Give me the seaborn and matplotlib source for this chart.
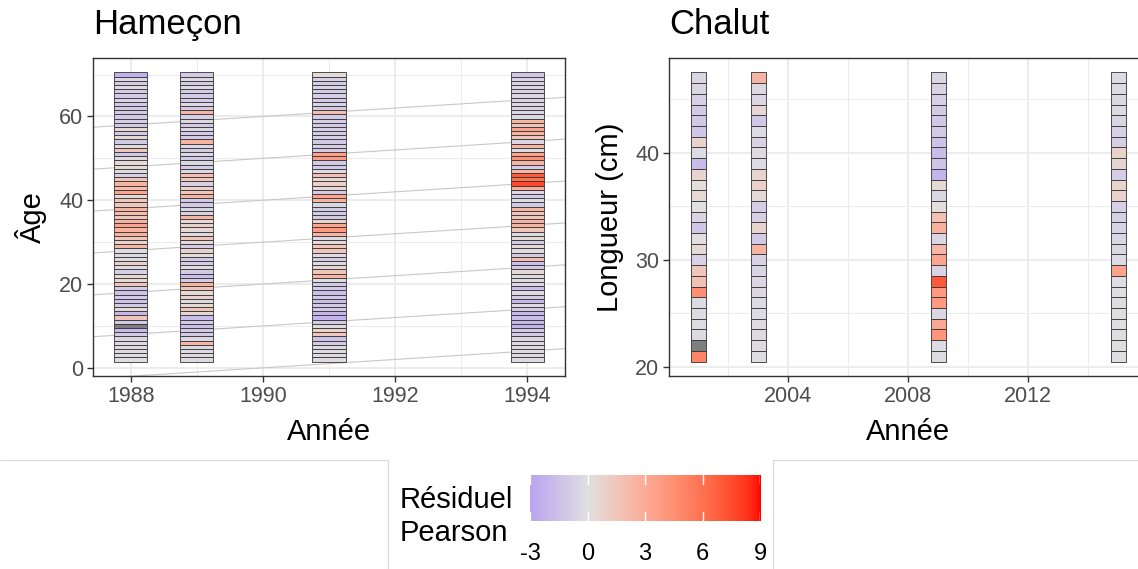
import numpy as np
import matplotlib
matplotlib.use("Agg")
import matplotlib.pyplot as plt
import seaborn as sns
from matplotlib.colors import ListedColormap, Normalize
from matplotlib.lines import Line2D

# ---------------- data ----------------
hook_years = [1988, 1989, 1991, 1994]
hook_ages = list(range(70, 1, -1))  # top to bottom
res_1988 = [-2.3, -0.5, -1.0, -0.3, -1.0, -1.0, -0.7, -1.0, -1.0, -1.0, -1.0, -0.8, -1.0, 0.4, -1.0, 0.5,
            -1.0, -0.2, 1.5, -1.3, -0.2, 0.5, 0.3, -0.2, -0.8, 1.5, 2.5, 2.0, 3.5, 0.5, 1.5, 1.5, 2.5, 2.0,
            1.5, 2.5, 3.5, 2.5, 2.5, 1.5, 0.8, 2.5, -0.2, -0.2, -0.2, 0.8, -0.2, -0.8, 0.5, 0.5, 1.5, -1.0,
            -1.5, -1.0, -1.5, -1.0, 0.5, -2.0, 1.5, -1.0, np.nan, -2.0, -1.0, -0.5, -0.2, -0.2, -0.2, -0.1, -0.1]
res_1989 = [-1.0, -0.4, -1.0, -0.3, -1.0, -1.0, -1.0, -0.3, -1.0, 2.5, -0.8, -0.5, -1.0, -0.5, -1.0, -1.0,
            2.5, -0.5, -1.0, -0.5, -1.0, -0.5, -1.0, -0.5, 2.0, 1.5, -0.8, 0.8, 1.5, 2.5, -1.0, -1.0, -0.6,
            -0.6, 2.5, 0.5, 0.8, 0.5, -0.2, 1.5, 0.5, -1.0, 0.8, 0.2, -1.0, -1.0, -0.2, -1.0, -1.6, -1.0, 2.5,
            1.5, 0.5, 0.8, -0.2, 0.5, 1.5, 0.5, -1.6, -1.0, -1.6, -1.0, -1.0, -0.5, 2.5, -0.2, -0.2, -0.2, -0.2]
res_1991 = [0.3, -0.8, -1.0, -0.6, -1.0, -0.8, -1.0, -0.6, -1.0, 2.0, -1.0, -0.8, -1.0, -0.8, -1.0, -0.8,
            -1.0, -0.8, -1.0, 3.5, 3.8, -1.0, -1.0, -0.3, 2.0, 0.5, 1.0, 0.5, -1.0, 3.5, 2.5, -0.5, -1.0,
            -1.0, -1.0, 0.8, 3.5, 4.0, 2.5, -0.2, 0.5, 1.5, 1.5, -0.2, -1.0, -0.2, 0.5, 1.5, 2.5, -0.2, -1.0,
            -1.0, -1.6, -1.0, -1.6, -1.0, -1.0, -2.2, -2.2, -1.0, -0.2, 0.8, 1.5, -1.5, -1.0, -0.2, -0.2, -0.2, -0.2]
res_1994 = [-1.2, -0.5, -0.6, -0.5, -0.6, -0.5, -0.6, -0.5, -0.6, -0.5, -0.3, 2.5, 1.5, 3.5, 2.5, 1.5,
            -0.5, 2.5, -0.3, 3.5, 4.5, 2.5, -1.0, 2.5, 7.0, 6.0, 7.5, 3.0, -0.5, -1.0, -0.3, -1.0, 2.5, 1.5,
            1.5, 2.5, 2.5, 1.5, -0.2, 0.5, -1.0, 0.5, -0.2, -1.0, 2.0, -1.6, -1.0, 0.5, -0.2, -0.2, -0.2, -1.6,
            -0.2, -1.0, -2.0, -0.3, -1.0, -2.0, -1.6, -2.0, -2.2, -1.0, -1.0, -0.5, -0.2, -0.2, -0.2, -0.2, -0.2]
hook_res = [res_1988, res_1989, res_1991, res_1994]

trawl_years = [2001, 2003, 2009, 2015]
trawl_lengths = list(range(47, 20, -1))  # top to bottom
res_2001 = [-0.5, -0.5, -0.8, -1.0, -1.2, -1.3, 0.8, -0.3, -1.8, 0.7, 0.2, 0.4, 0.0, -0.6, -1.3, 0.1,
            0.5, -0.7, 1.5, 1.8, 4.5, -0.3, -0.3, -0.3, -0.2, np.nan, 5.0]
res_2003 = [2.5, -0.4, -0.5, 0.6, -1.2, -0.3, -0.7, -0.2, -0.3, 0.7, 0.9, 0.4, -0.9, -0.8, 0.7, -1.1,
            2.5, -0.7, -0.6, -0.5, -0.4, -0.3, -0.3, -0.2, -0.2, -0.2, -0.1]
res_2009 = [-0.5, -0.7, -0.8, -1.0, -1.2, -1.0, -1.5, -1.8, -1.4, -2.2, 0.5, -0.5, 0.2, 1.8, 2.7, -0.5,
            2.3, 3.3, -0.7, 7.0, 4.0, 4.0, -0.4, 3.2, 4.2, -0.2, -0.2]
res_2015 = [-0.3, -0.3, -0.4, -0.4, -0.6, -0.8, -0.9, 0.8, 0.7, -0.9, 0.7, 0.8, -0.8, -0.8, -0.7, -0.5,
            -0.5, -0.3, 3.5, -0.1, -0.1, -0.1, -0.1, -0.1, -0.1, -0.1, -0.1]
trawl_res = [res_2001, res_2003, res_2009, res_2015]

cohorts = [1930, 1940, 1950, 1960, 1970, 1980, 1990]
cbar_ticks = [-3, 0, 3, 6, 9]

# ---------------- colour scale (Lab interpolation) ----------------
WHITE = np.array([0.95047, 1.0, 1.08883])
M = np.array([[0.4124, 0.3576, 0.1805], [0.2126, 0.7152, 0.0722], [0.0193, 0.1192, 0.9505]])
Minv = np.linalg.inv(M)


def to_lab(rgb):
    c = np.asarray(rgb, float)
    lin = np.where(c <= 0.04045, c / 12.92, ((c + 0.055) / 1.055) ** 2.4)
    t = (M @ lin) / WHITE
    f = np.where(t > 0.008856, np.cbrt(t), 7.787 * t + 16 / 116)
    return np.array([116 * f[1] - 16, 500 * (f[0] - f[1]), 200 * (f[1] - f[2])])


def from_lab(lab):
    L, a, b = lab
    fy = (L + 16) / 116
    fx = fy + a / 500
    fz = fy - b / 200
    f = np.array([fx, fy, fz])
    t = np.where(f ** 3 > 0.008856, f ** 3, (f - 16 / 116) / 7.787) * WHITE
    lin = Minv @ t
    lin = np.clip(lin, 0, 1)
    c = np.where(lin <= 0.0031308, 12.92 * lin, 1.055 * lin ** (1 / 2.4) - 0.055)
    return np.clip(c, 0, 1)


low = to_lab(np.array([184, 164, 240]) / 255)
mid = to_lab(np.array([224, 224, 224]) / 255)
high = to_lab(np.array([255, 0, 0]) / 255)
vmin, vmax = -3, 9
cols = []
for v in np.linspace(vmin, vmax, 256):
    if v < 0:
        t = (v - vmin) / (0 - vmin)
        lab = low + (mid - low) * t
    else:
        t = v / vmax
        lab = mid + (high - mid) * t
    cols.append(from_lab(lab))
cmap = ListedColormap(cols)
cmap.set_bad("#7F7F7F")
norm = Normalize(vmin, vmax)

# ---------------- theme ----------------
sns.set_theme(style="whitegrid")
plt.rcParams["font.family"] = ["Liberation Sans", "DejaVu Sans"]
plt.rcParams["text.color"] = "black"
plt.rcParams["axes.labelcolor"] = "black"

fig = plt.figure(figsize=(11.38, 5.69), dpi=100)
W, H = 1138, 569


def axbox(x0, y0, x1, y1):
    return [x0 / W, 1 - y1 / H, (x1 - x0) / W, (y1 - y0) / H]


ax1 = fig.add_axes(axbox(93, 58, 565, 376))
ax2 = fig.add_axes(axbox(669, 58, 1147.6, 376))


def style(ax):
    ax.set_facecolor("white")
    for s in ax.spines.values():
        s.set_visible(True)
        s.set_color("#333333")
        s.set_linewidth(1.0)
    ax.grid(True, which="major", color="#EBEBEB", linewidth=1.3)
    ax.grid(True, which="minor", color="#EBEBEB", linewidth=0.65)
    ax.tick_params(axis="both", which="major", length=4, width=1.0, color="#333333",
                   labelsize=15.5, labelcolor="#4D4D4D", pad=3, bottom=True, left=True)
    ax.tick_params(axis="both", which="minor", length=0)
    ax.set_axisbelow(True)


def draw_tiles(ax, xs, ys, vals):
    for x, col in zip(xs, vals):
        v = np.array(col, float)
        colors = [cmap(norm(vv)) if not np.isnan(vv) else (0.498, 0.498, 0.498, 1) for vv in v]
        ax.bar(np.full(len(ys), x), np.ones(len(ys)), bottom=np.array(ys) - 0.5, width=0.5,
               color=colors, edgecolor="#333333", linewidth=0.6, zorder=3)


# left panel
style(ax1)
xl = np.array([1987.425, 1994.575])
for c in cohorts:
    ax1.plot(xl, xl - c, color="#C8C8C8", linewidth=0.8, zorder=2)
draw_tiles(ax1, hook_years, hook_ages, hook_res)
ax1.set_xlim(1987.425, 1994.575)
ax1.set_ylim(-1.95, 73.95)
ax1.set_xticks([1988, 1990, 1992, 1994])
ax1.set_xticks([1989, 1991, 1993], minor=True)
ax1.set_yticks([0, 20, 40, 60])
ax1.set_yticks([10, 30, 50, 70], minor=True)
ax1.set_xlabel("Année", fontsize=21, labelpad=8)
ax1.set_ylabel("Âge", fontsize=21, labelpad=9)

# right panel
style(ax2)
draw_tiles(ax2, trawl_years, trawl_lengths, trawl_res)
ax2.set_xlim(2000.025, 2015.975)
ax2.set_ylim(19.15, 48.85)
ax2.set_xticks([2004, 2008, 2012])
ax2.set_xticks([2002, 2006, 2010, 2014], minor=True)
ax2.set_yticks([20, 30, 40])
ax2.set_yticks([25, 35, 45], minor=True)
ax2.set_xlabel("Année", fontsize=21, labelpad=8)
ax2.set_ylabel("Longueur (cm)", fontsize=21, labelpad=8)

fig.text(93 / W, 1 - 34 / H, "Hameçon", fontsize=25, ha="left", va="baseline")
fig.text(669 / W, 1 - 34 / H, "Chalut", fontsize=25, ha="left", va="baseline")

# legend frame lines
lc = "#D9D9D9"
fig.add_artist(Line2D([0, 388 / W], [1 - 460 / H] * 2, color=lc, lw=0.8))
fig.add_artist(Line2D([773 / W, 1], [1 - 460 / H] * 2, color=lc, lw=0.8))
fig.add_artist(Line2D([388 / W] * 2, [0, 1 - 460 / H], color=lc, lw=0.8))
fig.add_artist(Line2D([773 / W] * 2, [0, 1 - 460 / H], color=lc, lw=0.8))

# colourbar
cax = fig.add_axes(axbox(530, 475, 760, 521))
grad = np.linspace(vmin, vmax, 512)[None, :]
cax.imshow(grad, aspect="auto", cmap=cmap, norm=norm, extent=[vmin, vmax, 0, 1])
for t in cbar_ticks:
    cax.plot([t, t], [0, 0.2], color="white", lw=1.0)
    cax.plot([t, t], [0.8, 1], color="white", lw=1.0)
cax.set_xlim(vmin, vmax)
cax.set_ylim(0, 1)
cax.set_yticks([])
cax.set_xticks(cbar_ticks)
cax.set_xticklabels([str(t) for t in cbar_ticks])
cax.tick_params(axis="x", length=0, labelsize=17, labelcolor="black", pad=16)
cax.grid(False)
for s in cax.spines.values():
    s.set_visible(False)
fig.text(400 / W, 1 - 500 / H, "Résiduel", fontsize=21, ha="left", va="center")
fig.text(400 / W, 1 - 533 / H, "Pearson", fontsize=21, ha="left", va="center")

fig.savefig("out.png", dpi=100)
